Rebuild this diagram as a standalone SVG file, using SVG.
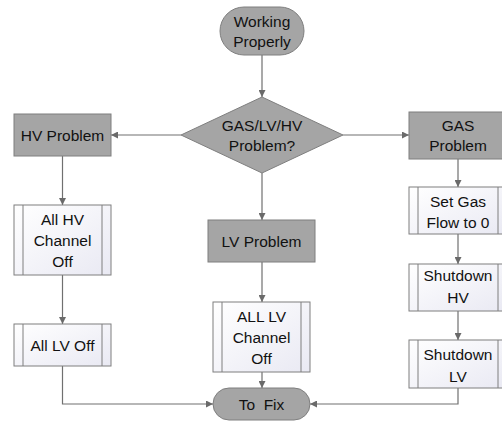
<svg xmlns="http://www.w3.org/2000/svg" width="502" height="421" viewBox="0 0 502 421">
<style>
.g{fill:#a5a5a5;stroke:#7f7f7f;stroke-width:1}
.s{fill:url(#sg);stroke:#7f7f7f;stroke-width:1}
.sl{fill:none;stroke:#7f7f7f;stroke-width:1}
.t{font-family:"Liberation Sans",Arial,sans-serif;font-size:15.5px;fill:#111;text-anchor:middle;white-space:pre}
.c{fill:none;stroke:#707070;stroke-width:1.2}
</style>
<defs>
<linearGradient id="sg" x1="0" y1="0" x2="1" y2="1">
<stop offset="0" stop-color="#ffffff"/>
<stop offset="1" stop-color="#e9e9f3"/>
</linearGradient>
<marker id="ah" viewBox="0 0 10 10" refX="10" refY="5" markerWidth="7" markerHeight="7" markerUnits="userSpaceOnUse" orient="auto">
<path d="M0,0 L10,5 L0,10 z" fill="#6a6a6a"/>
</marker>
</defs>
<rect width="502" height="421" fill="#ffffff"/>
<g id="connectors">
<path class="c" d="M262,55 V97" marker-end="url(#ah)"/>
<path class="c" d="M181,135 H111" marker-end="url(#ah)"/>
<path class="c" d="M343,135 H409" marker-end="url(#ah)"/>
<path class="c" d="M262,173 V220" marker-end="url(#ah)"/>
<path class="c" d="M62.5,156 V205" marker-end="url(#ah)"/>
<path class="c" d="M62.5,275 V324" marker-end="url(#ah)"/>
<path class="c" d="M62.5,366 V404 H213" marker-end="url(#ah)"/>
<path class="c" d="M262,262 V302" marker-end="url(#ah)"/>
<path class="c" d="M262,372 V388" marker-end="url(#ah)"/>
<path class="c" d="M458,159 V187" marker-end="url(#ah)"/>
<path class="c" d="M458,234 V264" marker-end="url(#ah)"/>
<path class="c" d="M458,311 V340" marker-end="url(#ah)"/>
<path class="c" d="M458,388 V404 H310" marker-end="url(#ah)"/>
</g>
<g id="working-properly">
<rect class="g" x="220" y="7" width="84" height="48" rx="24"/>
<text class="t" x="262" y="27">Working</text>
<text class="t" x="262" y="47">Properly</text>
</g>
<g id="decision">
<polygon class="g" points="262,97 343,135 262,173 181,135"/>
<text class="t" x="262" y="131">GAS/LV/HV</text>
<text class="t" x="262" y="151">Problem?</text>
</g>
<g id="hv-problem">
<rect class="g" x="14" y="114" width="97" height="42"/>
<text class="t" x="62.5" y="141">HV Problem</text>
</g>
<g id="gas-problem">
<rect class="g" x="409" y="112" width="98" height="47"/>
<text class="t" x="458" y="131">GAS</text>
<text class="t" x="458" y="151">Problem</text>
</g>
<g id="lv-problem">
<rect class="g" x="208" y="220" width="107" height="42"/>
<text class="t" x="261.5" y="247">LV Problem</text>
</g>
<g id="all-hv-channel-off">
<rect class="s" x="14" y="205" width="97" height="70"/>
<path class="sl" d="M23,205 V275 M102,205 V275"/>
<text class="t" x="62.5" y="225">All HV</text>
<text class="t" x="62.5" y="246">Channel</text>
<text class="t" x="62.5" y="267">Off</text>
</g>
<g id="all-lv-off">
<rect class="s" x="14" y="324" width="97" height="42"/>
<path class="sl" d="M23,324 V366 M102,324 V366"/>
<text class="t" x="62.5" y="351">All LV Off</text>
</g>
<g id="all-lv-channel-off">
<rect class="s" x="213" y="302" width="97" height="70"/>
<path class="sl" d="M222,302 V372 M301,302 V372"/>
<text class="t" x="261.5" y="322">ALL LV</text>
<text class="t" x="261.5" y="343">Channel</text>
<text class="t" x="261.5" y="364">Off</text>
</g>
<g id="set-gas-flow">
<rect class="s" x="409" y="187" width="98" height="47"/>
<path class="sl" d="M418,187 V234 M498,187 V234"/>
<text class="t" x="458" y="207">Set Gas</text>
<text class="t" x="458" y="228">Flow to 0</text>
</g>
<g id="shutdown-hv">
<rect class="s" x="409" y="264" width="98" height="47"/>
<path class="sl" d="M418,264 V311 M498,264 V311"/>
<text class="t" x="458" y="281">Shutdown</text>
<text class="t" x="458" y="303">HV</text>
</g>
<g id="shutdown-lv">
<rect class="s" x="409" y="340" width="98" height="48"/>
<path class="sl" d="M418,340 V388 M498,340 V388"/>
<text class="t" x="458" y="360">Shutdown</text>
<text class="t" x="458" y="382">LV</text>
</g>
<g id="to-fix">
<rect class="g" x="213" y="388" width="97" height="32" rx="16"/>
<text class="t" x="261.5" y="410">To  Fix</text>
</g>
</svg>
